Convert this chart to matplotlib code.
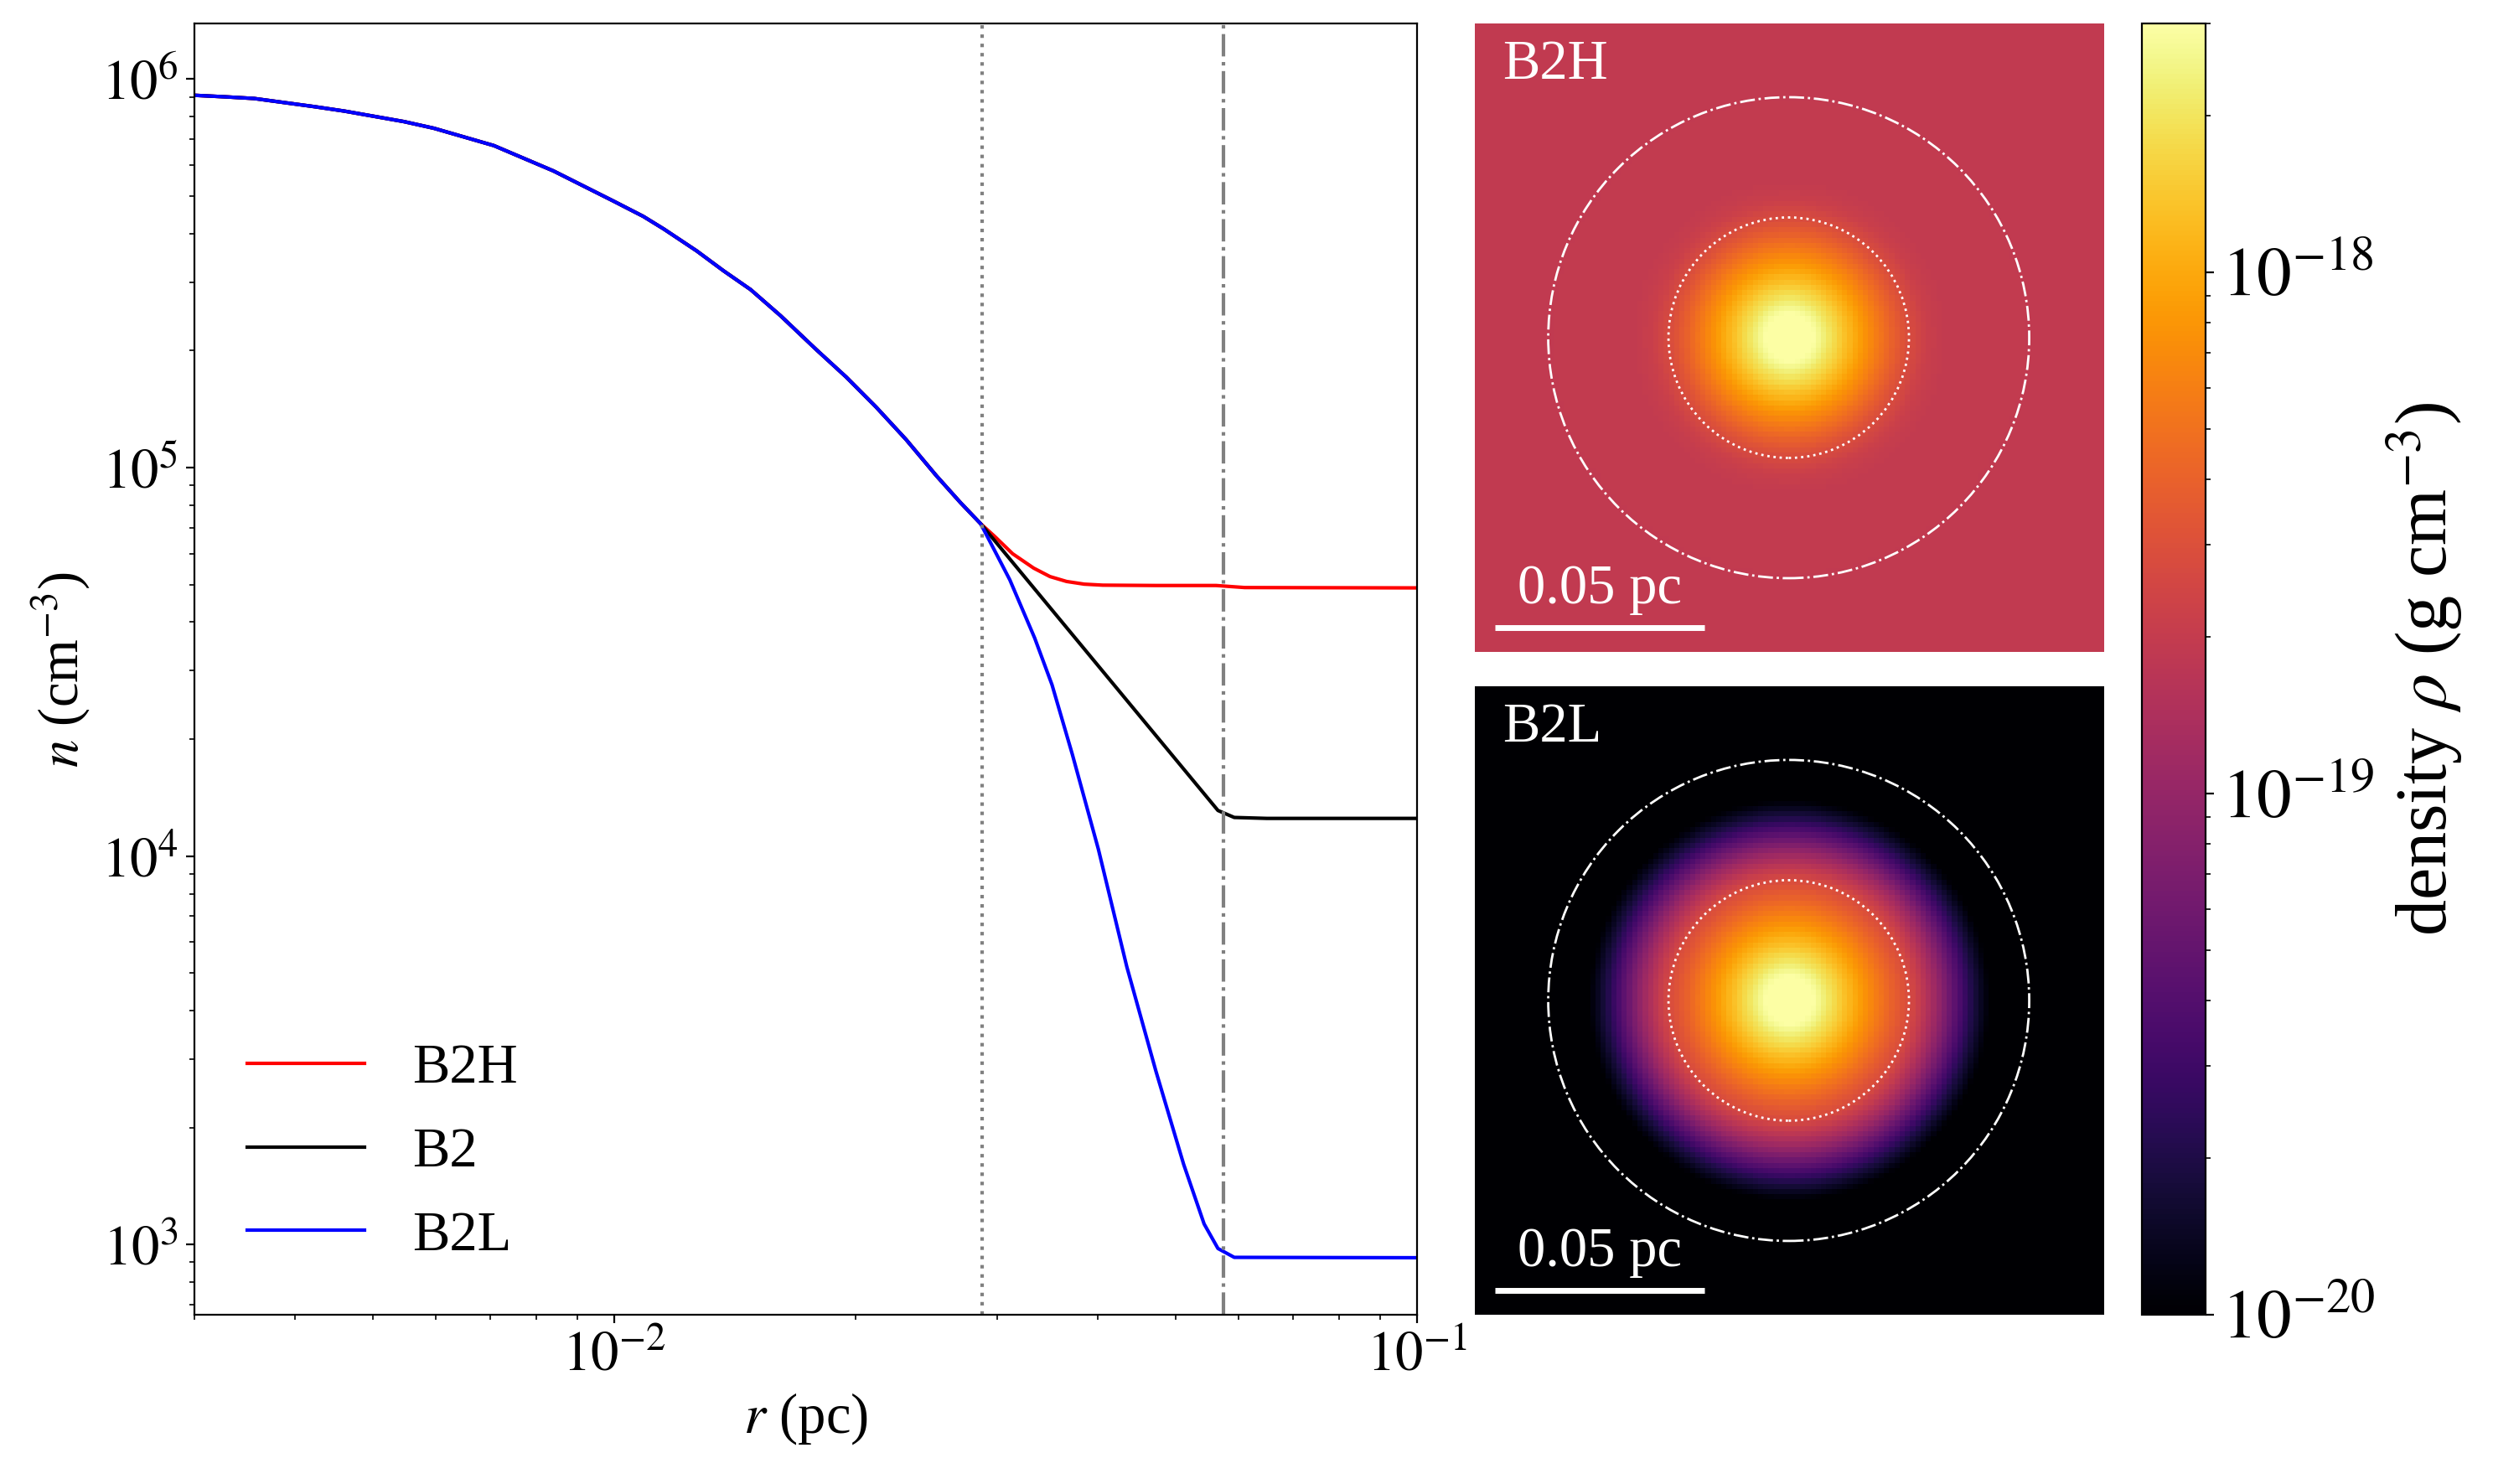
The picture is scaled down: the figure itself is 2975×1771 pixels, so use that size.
import numpy as np
import matplotlib
matplotlib.use("Agg")
import matplotlib.pyplot as plt
from matplotlib.colors import LogNorm
from matplotlib.patches import Circle
from matplotlib.ticker import FuncFormatter, NullFormatter

plt.rcParams["font.family"] = "serif"
plt.rcParams["font.serif"] = ["Liberation Serif", "DejaVu Serif"]
plt.rcParams["mathtext.fontset"] = "stix"

# shared inner profile (r in pc, n in cm^-3)
r_core = [3.0e-3, 3.27e-3, 3.56e-3, 4.23e-3, 4.61e-3, 5.47e-3, 5.96e-3,
          7.08e-3, 8.40e-3, 9.98e-3, 1.087e-2, 1.153e-2, 1.267e-2, 1.368e-2,
          1.479e-2, 1.611e-2, 1.786e-2, 1.945e-2, 2.12e-2, 2.31e-2, 2.52e-2,
          2.70e-2, 2.86e-2]
n_core = [9.08e5, 9.0e5, 8.91e5, 8.49e5, 8.27e5, 7.77e5, 7.47e5,
          6.74e5, 5.80e5, 4.85e5, 4.43e5, 4.11e5, 3.61e5, 3.21e5,
          2.87e5, 2.46e5, 2.01e5, 1.71e5, 1.43e5, 1.18e5, 9.52e4,
          8.12e4, 7.17e4]

# outer parts of each model
r_b2h = [2.98e-2, 3.135e-2, 3.33e-2, 3.49e-2, 3.66e-2, 3.85e-2, 4.06e-2,
         4.73e-2, 5.62e-2, 6.1e-2, 0.1]
n_b2h = [6.64e4, 6.0e4, 5.51e4, 5.24e4, 5.09e4, 5.01e4, 4.98e4,
         4.97e4, 4.97e4, 4.91e4, 4.90e4]

r_b2 = [5.65e-2, 5.92e-2, 6.5e-2, 0.1]
n_b2 = [1.31e4, 1.257e4, 1.25e4, 1.25e4]

r_b2l = [2.955e-2, 3.11e-2, 3.34e-2, 3.51e-2, 3.72e-2, 4.01e-2, 4.35e-2,
         4.73e-2, 5.12e-2, 5.43e-2, 5.65e-2, 5.92e-2, 0.1]
n_b2l = [6.3e4, 5.14e4, 3.64e4, 2.76e4, 1.83e4, 1.04e4, 5.19e3,
         2.79e3, 1.61e3, 1.13e3, 977, 927, 925]

r_inner = 0.0287   # dotted line / circle
r_outer = 0.0574   # dash-dot line / circle

models = {
    "B2H": (r_core + r_b2h, n_core + n_b2h, "red"),
    "B2": (r_core + r_b2, n_core + n_b2, "black"),
    "B2L": (r_core + r_b2l, n_core + n_b2l, "blue"),
}

rho_per_n = 2.33 * 1.6726e-24
vmin, vmax = 1e-20, 3.0e-18
cbar_ticks = [1e-20, 1e-19, 1e-18]
half = 0.075
npix = 120


def density_map(r_prof, n_prof):
    c = (np.arange(npix) + 0.5) / npix * 2 * half - half
    X, Y = np.meshgrid(c, c)
    R = np.clip(np.hypot(X, Y), r_prof[0], None)
    logn = np.interp(np.log10(R), np.log10(r_prof), np.log10(n_prof))
    return 10**logn * rho_per_n


def pow10(v, pos):
    return r"$10^{%d}$" % int(round(np.log10(v)))


fig = plt.figure(figsize=(14.875, 8.855), dpi=200)
ax = fig.add_axes([0.0780, 0.1141, 0.4904, 0.8701])
for name, (r, n, col) in models.items():
    ax.plot(r, n, color=col, lw=1.5, label=name)
ax.axvline(r_inner, color="grey", ls=":", lw=1.5)
ax.axvline(r_outer, color="grey", ls="-.", lw=1.5)
ax.set_xscale("log")
ax.set_yscale("log")
ax.set_xlim(3e-3, 0.1)
ax.set_ylim(660, 1.39e6)
for axis in (ax.xaxis, ax.yaxis):
    axis.set_major_formatter(FuncFormatter(pow10))
    axis.set_minor_formatter(NullFormatter())
ax.set_xlabel("$r$ (pc)", fontsize=24)
ax.set_ylabel("$n$ (cm$^{-3}$)", fontsize=24)
ax.tick_params(labelsize=24)
ax.legend(loc="lower left", frameon=False, fontsize=24, handlelength=2.1,
          handletextpad=0.85, borderaxespad=0.55, labelspacing=0.58)

norm = LogNorm(vmin=vmin, vmax=vmax)
panels = [("B2H", [0.5913, 0.5607, 0.2524, 0.4235]),
          ("B2L", [0.5913, 0.1141, 0.2524, 0.4235])]
for name, pos in panels:
    r, n, _ = models[name]
    iax = fig.add_axes(pos)
    im = iax.imshow(density_map(r, n), origin="lower", cmap="inferno",
                    norm=norm, interpolation="nearest",
                    extent=[-half, half, -half, half])
    iax.add_patch(Circle((0, 0), r_inner, fill=False, ec="white", ls=":", lw=1.0))
    iax.add_patch(Circle((0, 0), r_outer, fill=False, ec="white", ls="-.", lw=1.0))
    x0, y0 = -half + 0.033 * 2 * half, -half + 0.039 * 2 * half
    iax.plot([x0, x0 + 0.05], [y0, y0], color="white", lw=2.5,
             solid_capstyle="butt")
    iax.text(x0 + 0.025, y0 + 0.003, "0.05 pc", color="white", fontsize=24,
             ha="center", va="bottom")
    iax.text(0.045, 0.975, name, color="white", fontsize=24,
             transform=iax.transAxes, ha="left", va="top")
    iax.set_xlim(-half, half)
    iax.set_ylim(-half, half)
    iax.set_axis_off()

cax = fig.add_axes([0.8592, 0.1141, 0.0255, 0.8701])
cb = fig.colorbar(im, cax=cax, ticks=cbar_ticks)
cb.ax.yaxis.set_major_formatter(FuncFormatter(pow10))
cb.ax.yaxis.set_minor_formatter(NullFormatter())
cb.set_label(r"density $\rho$ (g cm$^{-3}$)", fontsize=31)
cb.ax.tick_params(labelsize=30)

fig.savefig("out.png", dpi=200)
